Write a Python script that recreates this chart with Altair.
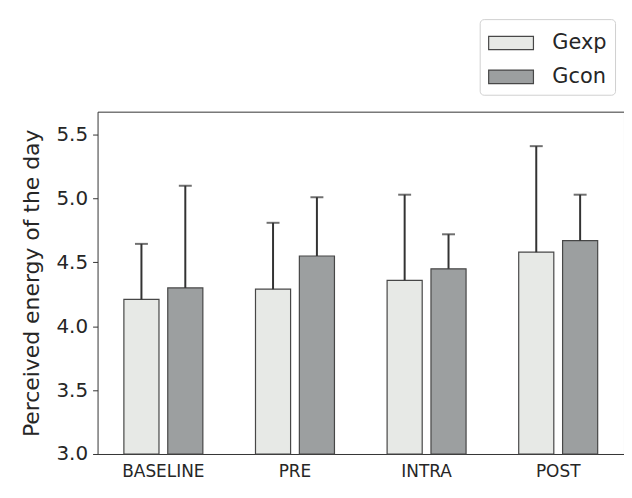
import altair as alt
import pandas as pd

phases = ["BASELINE", "PRE", "INTRA", "POST"]
groups = ["Gexp", "Gcon"]
gexp_mean = [4.21, 4.29, 4.36, 4.58]
gcon_mean = [4.30, 4.55, 4.45, 4.67]
gexp_upper = [4.645, 4.81, 5.03, 5.41]
gcon_upper = [5.10, 5.01, 4.72, 5.03]

rows = []
for i, p in enumerate(phases):
    rows.append({"phase": p, "group": "Gexp", "mean": gexp_mean[i], "upper": gexp_upper[i]})
    rows.append({"phase": p, "group": "Gcon", "mean": gcon_mean[i], "upper": gcon_upper[i]})
df = pd.DataFrame(rows)

font = "DejaVu Sans"

x = alt.X("phase:N", sort=phases, title=None,
          scale=alt.Scale(paddingInner=0.4, paddingOuter=0.2),
          axis=alt.Axis(labelAngle=0, ticks=False, domain=False, labelFontSize=17,
                        labelColor="#262626", labelFont=font, labelPadding=10))
xoff = alt.XOffset("group:N", sort=groups, scale=alt.Scale(paddingInner=0.2, paddingOuter=0))
yscale = alt.Scale(domain=[3.0, 5.68], nice=False, zero=False)

base = alt.Chart(df)

bars = base.mark_bar(stroke="#474747", strokeWidth=1.2).encode(
    x=x,
    xOffset=xoff,
    y=alt.Y("mean:Q", scale=yscale, title="Perceived energy of the day",
            axis=alt.Axis(values=[3.0, 3.5, 4.0, 4.5, 5.0, 5.5], format=".1f",
                          labelFontSize=20, labelFont=font, labelColor="#262626",
                          titleFontSize=22, titleFont=font, titleFontWeight="normal",
                          titleColor="#262626", titlePadding=13,
                          tickColor="#333333", tickSize=5, domain=False, grid=False,
                          labelPadding=5)),
    y2=alt.datum(3.0),
    color=alt.Color("group:N", sort=groups,
                    scale=alt.Scale(domain=groups, range=["#e7e9e6", "#9c9fa0"]),
                    legend=alt.Legend(title=None, orient="none", legendX=384, legendY=-93,
                                      symbolType="M-1,-0.45L2,-0.45L2,0.45L-1,0.45Z",
                                      symbolSize=900, symbolStrokeColor="#474747",
                                      symbolStrokeWidth=1.2, symbolOpacity=1,
                                      labelFontSize=21, labelFont=font, labelColor="#262626",
                                      labelOffset=33, rowPadding=8,
                                      fillColor="white", strokeColor="#d0d0d0",
                                      cornerRadius=4, padding=8)),
)

rules = base.mark_rule(color="#333333", strokeWidth=2).encode(
    x=x, xOffset=xoff,
    y=alt.Y("mean:Q", scale=yscale),
    y2="upper:Q",
)

caps = base.mark_tick(color="#333333", thickness=2, size=13, orient="horizontal").encode(
    x=x, xOffset=xoff,
    y=alt.Y("upper:Q", scale=yscale),
)

chart = alt.layer(bars, rules, caps).properties(
    width=529, height=344,
    autosize=alt.AutoSizeParams(type="none"),
    padding={"left": 90, "top": 103, "right": 0, "bottom": 35},
    background="white",
).configure_view(stroke="#333333", strokeWidth=1)

chart.save("out.html", embed_options={"renderer": "svg", "actions": False})
